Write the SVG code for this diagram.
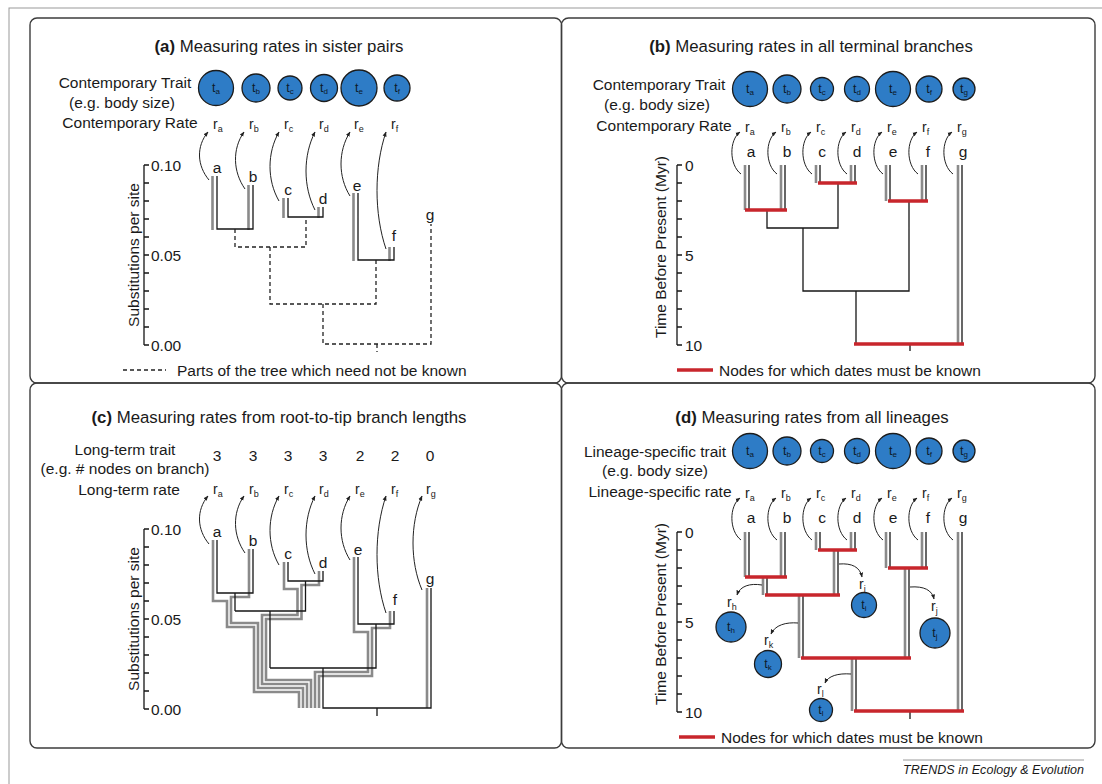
<svg xmlns="http://www.w3.org/2000/svg" width="1102" height="784" viewBox="0 0 1102 784">
<defs>
<style>
.f{font-family:"Liberation Sans",Arial,Helvetica,sans-serif;fill:#1a1a1a}
.ti{font-size:16.8px;text-anchor:middle}
.lb{font-size:15.5px;text-anchor:middle}
.lg{font-size:15.5px}
.tp{font-size:15.5px;text-anchor:middle}
.rl{font-size:14px}
.s9{font-size:9px}
.tl{font-size:12.5px;text-anchor:middle;fill:#0d1a2a}
.s7{font-size:8px}
.ax{font-size:15.5px}
.k{fill:none;stroke:#161616;stroke-width:1.3}
.g{fill:none;stroke:#8a8a8a;stroke-width:2.6}
.rd{fill:none;stroke:#c8262c;stroke-width:3.6}
.ds{fill:none;stroke:#222;stroke-width:1.3;stroke-dasharray:4 3}
.ar{fill:none;stroke:#222;stroke-width:1;marker-end:url(#ah)}
.bb{fill:#2e7cc6;stroke:#1c1c1c;stroke-width:1.3}
.pn{fill:none;stroke:#3c3c3c;stroke-width:1.4}
</style>
<marker id="ah" viewBox="0 0 10 10" refX="9" refY="5" markerWidth="5" markerHeight="5" markerUnits="userSpaceOnUse" orient="auto"><path d="M0,1 L10,5 L0,9 z" fill="#222"/></marker>
</defs>
<rect width="1102" height="784" fill="#fff"/>
<g id="frame">
<rect x="9" y="8" width="1100" height="790" fill="none" stroke="#999" stroke-width="1"/>
<rect class="pn" x="30" y="18" width="531.5" height="365" rx="7"/>
<rect class="pn" x="561.5" y="18" width="533.5" height="365" rx="7"/>
<rect class="pn" x="30" y="383" width="531.5" height="365" rx="7"/>
<rect class="pn" x="561.5" y="383" width="533.5" height="365" rx="7"/>
</g>

<!-- PANEL A -->
<g id="panel-a">
<text class="f ti" x="279" y="52"><tspan font-weight="bold">(a)</tspan> Measuring rates in sister pairs</text>
<text class="f lb" x="125" y="88">Contemporary Trait</text>
<text class="f lb" x="122" y="108">(e.g. body size)</text>
<text class="f lb" x="130" y="128">Contemporary Rate</text>
<g id="a-ta"><circle class="bb" cx="216" cy="88" r="17.5"/><text class="f tl" x="216" y="92">t<tspan class="s7" dy="2">a</tspan></text></g>
<g id="a-tb"><circle class="bb" cx="256" cy="88" r="14"/><text class="f tl" x="256" y="92">t<tspan class="s7" dy="2">b</tspan></text></g>
<g id="a-tc"><circle class="bb" cx="290" cy="88" r="12"/><text class="f tl" x="290" y="92">t<tspan class="s7" dy="2">c</tspan></text></g>
<g id="a-td"><circle class="bb" cx="324" cy="88" r="13.5"/><text class="f tl" x="324" y="92">t<tspan class="s7" dy="2">d</tspan></text></g>
<g id="a-te"><circle class="bb" cx="359" cy="88" r="18"/><text class="f tl" x="359" y="92">t<tspan class="s7" dy="2">e</tspan></text></g>
<g id="a-tf"><circle class="bb" cx="397" cy="88" r="13"/><text class="f tl" x="397" y="92">t<tspan class="s7" dy="2">f</tspan></text></g>
<g id="a-rates">
<text class="f rl" x="213" y="129">r<tspan class="s9" dy="3">a</tspan></text>
<text class="f rl" x="249" y="129">r<tspan class="s9" dy="3">b</tspan></text>
<text class="f rl" x="284" y="129">r<tspan class="s9" dy="3">c</tspan></text>
<text class="f rl" x="319" y="129">r<tspan class="s9" dy="3">d</tspan></text>
<text class="f rl" x="354" y="129">r<tspan class="s9" dy="3">e</tspan></text>
<text class="f rl" x="391" y="129">r<tspan class="s9" dy="3">f</tspan></text>
</g>
<g id="a-tips">
<text class="f tp" x="217" y="173">a</text>
<text class="f tp" x="253" y="182">b</text>
<text class="f tp" x="288" y="195">c</text>
<text class="f tp" x="323" y="204">d</text>
<text class="f tp" x="357" y="191">e</text>
<text class="f tp" x="394" y="241">f</text>
<text class="f tp" x="430" y="220">g</text>
</g>
<g id="a-axis">
<path class="k" d="M144,165 V345 M144,165 h5 M144,183 h5 M144,201 h5 M144,219 h5 M144,237 h5 M144,255 h5 M144,273 h5 M144,291 h5 M144,309 h5 M144,327 h5 M144,345 h5"/>
<text class="f ax" x="151" y="170.5">0.10</text>
<text class="f ax" x="151" y="260.5">0.05</text>
<text class="f ax" x="151" y="350.5">0.00</text>
<text class="f lb" transform="translate(139,255) rotate(-90)">Substitutions per site</text>
</g>
<g id="a-connectors">
<path class="g" d="M212.5,176 V230 M248.5,185 V230 M283.5,198 V218 M318.5,207 V218 M353.5,193 V261 M389.5,247 V261"/>
<path class="k" d="M217,176 V229 H253 V185 M288,198 V217 H323 V207 M358,193 V260 H394 V247"/>
<path class="ds" d="M235,229 V247 H306 V217 M270,247 V304 H376 V260 M323,304 V344 H431 V224 M377,344 V352"/>
<path class="ar" d="M209,180 C197,165.6 196,146.4 208,132"/>
<path class="ar" d="M245,189 C233,171.9 232,149.1 244,132"/>
<path class="ar" d="M279,201 C267,180.3 267,152.7 279,132"/>
<path class="ar" d="M315,210 C303,186.6 303,155.4 315,132"/>
<path class="ar" d="M350,196 C338,176.8 338,151.2 350,132"/>
<path class="ar" d="M386,249 C374,213.9 374,167.1 386,132"/>
</g>
<g id="a-legend">
<path class="ds" d="M123,370 H166"/>
<text class="f lg" x="177" y="375.5">Parts of the tree which need not be known</text>
</g>
</g>

<!-- PANEL B -->
<g id="panel-b">
<text class="f ti" x="811" y="52"><tspan font-weight="bold">(b)</tspan> Measuring rates in all terminal branches</text>
<text class="f lb" x="659" y="90">Contemporary Trait</text>
<text class="f lb" x="657" y="110">(e.g. body size)</text>
<text class="f lb" x="664" y="131">Contemporary Rate</text>
<g id="b-ta"><circle class="bb" cx="750" cy="89" r="17.5"/><text class="f tl" x="750" y="93">t<tspan class="s7" dy="2">a</tspan></text></g>
<g id="b-tb"><circle class="bb" cx="787" cy="89" r="14"/><text class="f tl" x="787" y="93">t<tspan class="s7" dy="2">b</tspan></text></g>
<g id="b-tc"><circle class="bb" cx="822" cy="89" r="11.5"/><text class="f tl" x="822" y="93">t<tspan class="s7" dy="2">c</tspan></text></g>
<g id="b-td"><circle class="bb" cx="857" cy="89" r="12.5"/><text class="f tl" x="857" y="93">t<tspan class="s7" dy="2">d</tspan></text></g>
<g id="b-te"><circle class="bb" cx="893" cy="89" r="17.5"/><text class="f tl" x="893" y="93">t<tspan class="s7" dy="2">e</tspan></text></g>
<g id="b-tf"><circle class="bb" cx="929" cy="89" r="13"/><text class="f tl" x="929" y="93">t<tspan class="s7" dy="2">f</tspan></text></g>
<g id="b-tg"><circle class="bb" cx="964" cy="89" r="11"/><text class="f tl" x="964" y="93">t<tspan class="s7" dy="2">g</tspan></text></g>
<g id="b-rates">
<text class="f rl" x="745" y="132">r<tspan class="s9" dy="3">a</tspan></text>
<text class="f rl" x="781" y="132">r<tspan class="s9" dy="3">b</tspan></text>
<text class="f rl" x="816" y="132">r<tspan class="s9" dy="3">c</tspan></text>
<text class="f rl" x="851" y="132">r<tspan class="s9" dy="3">d</tspan></text>
<text class="f rl" x="887" y="132">r<tspan class="s9" dy="3">e</tspan></text>
<text class="f rl" x="922" y="132">r<tspan class="s9" dy="3">f</tspan></text>
<text class="f rl" x="957" y="132">r<tspan class="s9" dy="3">g</tspan></text>
</g>
<g id="b-tips">
<text class="f tp" x="751" y="157">a</text>
<text class="f tp" x="787" y="157">b</text>
<text class="f tp" x="822" y="157">c</text>
<text class="f tp" x="857" y="157">d</text>
<text class="f tp" x="893" y="157">e</text>
<text class="f tp" x="928" y="157">f</text>
<text class="f tp" x="963" y="157">g</text>
</g>
<g id="b-axis">
<path class="k" d="M677,165 V345 M677,165 h5 M677,183 h5 M677,201 h5 M677,219 h5 M677,237 h5 M677,255 h5 M677,273 h5 M677,291 h5 M677,309 h5 M677,327 h5 M677,345 h5"/>
<text class="f ax" x="685" y="170.5">0</text>
<text class="f ax" x="685" y="260.5">5</text>
<text class="f ax" x="685" y="350.5">10</text>
<text class="f lb" transform="translate(666,247) rotate(-90)">Time Before Present (Myr)</text>
</g>
<g id="b-connectors">
<path class="g" d="M745,165 V210 M781,165 V210 M816,165 V183 M851,165 V183 M886,165 V201 M922,165 V201 M958,165 V344"/>
<path class="k" d="M749,165 V210 M785,165 V210 M820,165 V183 M855,165 V183 M890,165 V201 M926,165 V201 M962,165 V344"/>
<path class="k" d="M767,210 V228 H838 V183 M803,228 V291 H909 V201 M856,291 V344 M910,344 V351"/>
<path class="rd" d="M745,210 H787 M818,183 H857 M888,201 H928 M854,344 H964"/>
<path class="ar" d="M741,174 C729,165 729,140 740,132"/>
<path class="ar" d="M777,174 C765,165 765,140 776,132"/>
<path class="ar" d="M812,174 C800,165 800,140 811,132"/>
<path class="ar" d="M847,174 C835,165 835,140 846,132"/>
<path class="ar" d="M883,174 C871,165 871,140 882,132"/>
<path class="ar" d="M918,174 C906,165 906,140 917,132"/>
<path class="ar" d="M953,174 C941,165 941,140 952,132"/>
</g>
<g id="b-legend">
<path class="rd" d="M677,370 H713"/>
<text class="f lg" x="719" y="375.5">Nodes for which dates must be known</text>
</g>
</g>

<!-- PANEL C -->
<g id="panel-c">
<text class="f ti" x="279" y="423"><tspan font-weight="bold">(c)</tspan> Measuring rates from root-to-tip branch lengths</text>
<text class="f lb" x="125" y="455">Long-term trait</text>
<text class="f lb" x="125" y="474">(e.g. # nodes on branch)</text>
<text class="f lb" x="129" y="495">Long-term rate</text>
<g id="c-traits">
<text class="f tp" x="217" y="461">3</text>
<text class="f tp" x="253" y="461">3</text>
<text class="f tp" x="288" y="461">3</text>
<text class="f tp" x="323" y="461">3</text>
<text class="f tp" x="360" y="461">2</text>
<text class="f tp" x="395" y="461">2</text>
<text class="f tp" x="430" y="461">0</text>
</g>
<g id="c-rates">
<text class="f rl" x="213" y="494">r<tspan class="s9" dy="3">a</tspan></text>
<text class="f rl" x="249" y="494">r<tspan class="s9" dy="3">b</tspan></text>
<text class="f rl" x="284" y="494">r<tspan class="s9" dy="3">c</tspan></text>
<text class="f rl" x="319" y="494">r<tspan class="s9" dy="3">d</tspan></text>
<text class="f rl" x="355" y="494">r<tspan class="s9" dy="3">e</tspan></text>
<text class="f rl" x="391" y="494">r<tspan class="s9" dy="3">f</tspan></text>
<text class="f rl" x="426" y="494">r<tspan class="s9" dy="3">g</tspan></text>
</g>
<g id="c-tips">
<text class="f tp" x="217" y="537">a</text>
<text class="f tp" x="253" y="546">b</text>
<text class="f tp" x="288" y="559">c</text>
<text class="f tp" x="323" y="568">d</text>
<text class="f tp" x="358" y="555">e</text>
<text class="f tp" x="395" y="605">f</text>
<text class="f tp" x="430" y="584">g</text>
</g>
<g id="c-axis">
<path class="k" d="M144,529 V709 M144,529 h5 M144,547 h5 M144,565 h5 M144,583 h5 M144,601 h5 M144,619 h5 M144,637 h5 M144,655 h5 M144,673 h5 M144,691 h5 M144,709 h5"/>
<text class="f ax" x="151" y="534.5">0.10</text>
<text class="f ax" x="151" y="624.5">0.05</text>
<text class="f ax" x="151" y="714.5">0.00</text>
<text class="f lb" transform="translate(139,619) rotate(-90)">Substitutions per site</text>
</g>
<g id="c-connectors">
<path class="g" d="M213,540 V601 H227 V627 H254 V692 H299 V708"/>
<path class="g" d="M249,549 V597 H231 V623 H258 V688 H303 V708"/>
<path class="g" d="M284,562 V589 H297.5 V615 H262 V684 H307 V708"/>
<path class="g" d="M319,571 V585 H301.5 V619 H266 V680 H311 V708"/>
<path class="g" d="M354,557 V632 H368 V672 H315 V708"/>
<path class="g" d="M390,611 V628 H372 V676 H319 V708"/>
<path class="g" d="M427,588 V708"/>
<path class="k" d="M217,540 V593 H253 V549 M235,593 V611 M288,562 V581 H323 V571 M305.5,581 V611 H235 M270,611 V668 M358,557 V624 H394 V611 M376,624 V668 H270 M323,668 V708 H431 V588 M377,708 V716"/>
<path class="ar" d="M209,544 C197,529.6 196,510.4 208,496"/>
<path class="ar" d="M245,553 C233,535.9 232,513.1 244,496"/>
<path class="ar" d="M279,565 C267,544.3 267,516.7 279,496"/>
<path class="ar" d="M315,574 C303,550.6 303,519.4 315,496"/>
<path class="ar" d="M350,560 C338,540.8 338,515.2 350,496"/>
<path class="ar" d="M386,613 C374,577.9 374,531.1 386,496"/>
<path class="ar" d="M422,590 C410,561.8 410,524.2 422,496"/>
</g>
</g>

<!-- PANEL D -->
<g id="panel-d">
<text class="f ti" x="812" y="423"><tspan font-weight="bold">(d)</tspan> Measuring rates from all lineages</text>
<text class="f lb" x="655" y="457">Lineage-specific trait</text>
<text class="f lb" x="655" y="476">(e.g. body size)</text>
<text class="f lb" x="660" y="497">Lineage-specific rate</text>
<g id="d-ta"><circle class="bb" cx="750" cy="451" r="17.5"/><text class="f tl" x="750" y="455">t<tspan class="s7" dy="2">a</tspan></text></g>
<g id="d-tb"><circle class="bb" cx="787" cy="451" r="14"/><text class="f tl" x="787" y="455">t<tspan class="s7" dy="2">b</tspan></text></g>
<g id="d-tc"><circle class="bb" cx="822" cy="451" r="11.5"/><text class="f tl" x="822" y="455">t<tspan class="s7" dy="2">c</tspan></text></g>
<g id="d-td"><circle class="bb" cx="857" cy="451" r="12.5"/><text class="f tl" x="857" y="455">t<tspan class="s7" dy="2">d</tspan></text></g>
<g id="d-te"><circle class="bb" cx="893" cy="451" r="17.5"/><text class="f tl" x="893" y="455">t<tspan class="s7" dy="2">e</tspan></text></g>
<g id="d-tf"><circle class="bb" cx="929" cy="451" r="13"/><text class="f tl" x="929" y="455">t<tspan class="s7" dy="2">f</tspan></text></g>
<g id="d-tg"><circle class="bb" cx="964" cy="451" r="11"/><text class="f tl" x="964" y="455">t<tspan class="s7" dy="2">g</tspan></text></g>
<g id="d-th"><circle class="bb" cx="731" cy="627" r="15"/><text class="f tl" x="731" y="631">t<tspan class="s7" dy="2">h</tspan></text></g>
<g id="d-ti"><circle class="bb" cx="864" cy="605" r="12.5"/><text class="f tl" x="864" y="609">t<tspan class="s7" dy="2">i</tspan></text></g>
<g id="d-tk"><circle class="bb" cx="768" cy="664" r="13.5"/><text class="f tl" x="768" y="668">t<tspan class="s7" dy="2">k</tspan></text></g>
<g id="d-tj"><circle class="bb" cx="935" cy="633" r="15"/><text class="f tl" x="935" y="637">t<tspan class="s7" dy="2">j</tspan></text></g>
<g id="d-tl"><circle class="bb" cx="821" cy="710" r="11.5"/><text class="f tl" x="821" y="714">t<tspan class="s7" dy="2">l</tspan></text></g>
<g id="d-rates">
<text class="f rl" x="745" y="498">r<tspan class="s9" dy="3">a</tspan></text>
<text class="f rl" x="781" y="498">r<tspan class="s9" dy="3">b</tspan></text>
<text class="f rl" x="816" y="498">r<tspan class="s9" dy="3">c</tspan></text>
<text class="f rl" x="851" y="498">r<tspan class="s9" dy="3">d</tspan></text>
<text class="f rl" x="887" y="498">r<tspan class="s9" dy="3">e</tspan></text>
<text class="f rl" x="922" y="498">r<tspan class="s9" dy="3">f</tspan></text>
<text class="f rl" x="957" y="498">r<tspan class="s9" dy="3">g</tspan></text>
<text class="f rl" x="727" y="607">r<tspan class="s9" dy="3">h</tspan></text>
<text class="f rl" x="859" y="589">r<tspan class="s9" dy="3">i</tspan></text>
<text class="f rl" x="764" y="645">r<tspan class="s9" dy="3">k</tspan></text>
<text class="f rl" x="931" y="611">r<tspan class="s9" dy="3">j</tspan></text>
<text class="f rl" x="817" y="694">r<tspan class="s9" dy="3">l</tspan></text>
</g>
<g id="d-tips">
<text class="f tp" x="751" y="523">a</text>
<text class="f tp" x="787" y="523">b</text>
<text class="f tp" x="822" y="523">c</text>
<text class="f tp" x="857" y="523">d</text>
<text class="f tp" x="893" y="523">e</text>
<text class="f tp" x="928" y="523">f</text>
<text class="f tp" x="963" y="523">g</text>
</g>
<g id="d-axis">
<path class="k" d="M677,532 V712 M677,532 h5 M677,550 h5 M677,568 h5 M677,586 h5 M677,604 h5 M677,622 h5 M677,640 h5 M677,658 h5 M677,676 h5 M677,694 h5 M677,712 h5"/>
<text class="f ax" x="685" y="537.5">0</text>
<text class="f ax" x="685" y="627.5">5</text>
<text class="f ax" x="685" y="717.5">10</text>
<text class="f lb" transform="translate(666,614) rotate(-90)">Time Before Present (Myr)</text>
</g>
<g id="d-connectors">
<path class="g" d="M745,532 V577 M781,532 V577 M816,532 V550 M851,532 V550 M886,532 V568 M922,532 V568 M958,532 V711 M763,577 V595 M834,550 V595 M799,595 V658 M905,568 V658 M852,658 V711"/>
<path class="k" d="M749,532 V577 M785,532 V577 M820,532 V550 M855,532 V550 M890,532 V568 M926,532 V568 M962,532 V711 M767,577 V595 M838,550 V595 M803,595 V658 M909,568 V658 M856,658 V711 M910,711 V719"/>
<path class="rd" d="M745,577 H787 M818,550 H857 M888,568 H928 M765,595 H840 M801,658 H911 M854,711 H964"/>
<path class="ar" d="M741,540 C729,531 729,506 740,498"/>
<path class="ar" d="M777,540 C765,531 765,506 776,498"/>
<path class="ar" d="M812,540 C800,531 800,506 811,498"/>
<path class="ar" d="M847,540 C835,531 835,506 846,498"/>
<path class="ar" d="M883,540 C871,531 871,506 882,498"/>
<path class="ar" d="M918,540 C906,531 906,506 917,498"/>
<path class="ar" d="M953,540 C941,531 941,506 952,498"/>
<path class="ar" d="M762,585 C750,583 740,586 737,595"/>
<path class="ar" d="M839,564 C852,563 860,567 862,577"/>
<path class="ar" d="M798,623 C786,622 775,625 771,634"/>
<path class="ar" d="M910,587 C924,586 932,590 934,599"/>
<path class="ar" d="M851,674 C838,673 828,676 825,683"/>
</g>
<g id="d-legend">
<path class="rd" d="M679,737 H715"/>
<text class="f lg" x="721" y="742.5">Nodes for which dates must be known</text>
</g>
</g>

<g id="footer">
<path d="M903,760 H1084" stroke="#9a9a9a" stroke-width="1"/>
<text class="f" x="903" y="774" font-size="12.5" font-style="italic" fill="#333" textLength="181">TRENDS in Ecology &amp; Evolution</text>
</g>
</svg>
